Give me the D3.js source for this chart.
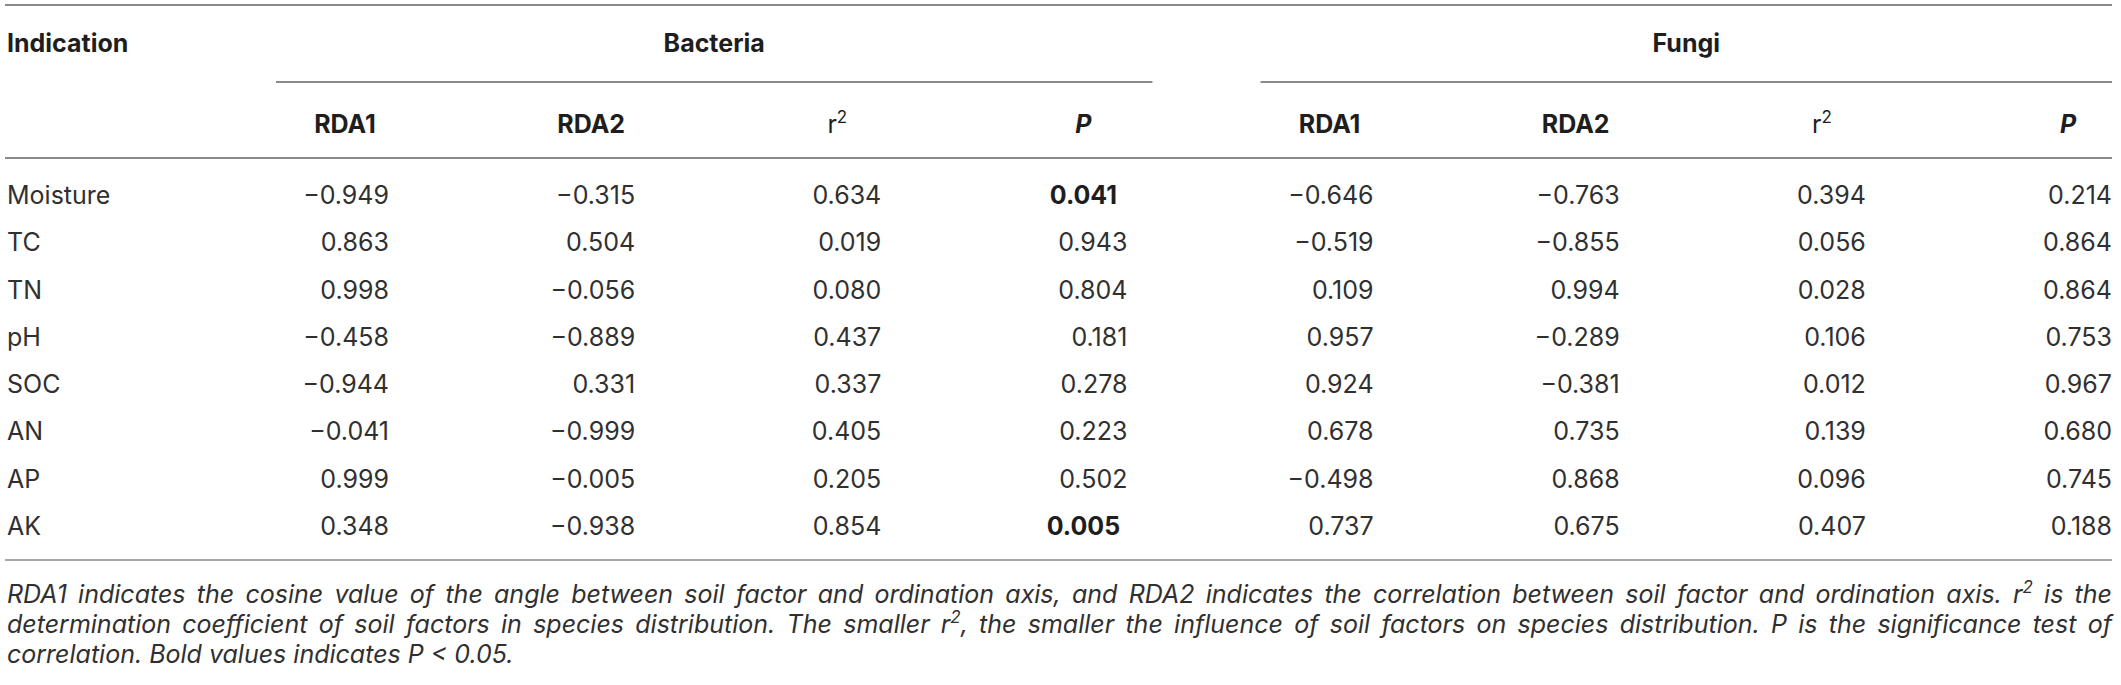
<!DOCTYPE html>
<html><head><meta charset="utf-8">
<script src="https://cdn.jsdelivr.net/npm/d3@7"></script>
<style>
body{margin:0;background:#fff}
svg{display:block}
text{font-family:Inter,"Liberation Sans",Arial,sans-serif}
</style>
</head><body>
<svg id="c" width="2121" height="685"></svg>
<script>
// ---- data ----
const indications = ["Moisture","TC","TN","pH","SOC","AN","AP","AK"];
const groups = ["Bacteria","Fungi"];
const measures = ["RDA1","RDA2","r2","P"];
const bacteriaRDA1 = [-0.949,0.863,0.998,-0.458,-0.944,-0.041,0.999,0.348];
const bacteriaRDA2 = [-0.315,0.504,-0.056,-0.889,0.331,-0.999,-0.005,-0.938];
const bacteriaR2   = [0.634,0.019,0.080,0.437,0.337,0.405,0.205,0.854];
const bacteriaP    = [0.041,0.943,0.804,0.181,0.278,0.223,0.502,0.005];
const fungiRDA1 = [-0.646,-0.519,0.109,0.957,0.924,0.678,-0.498,0.737];
const fungiRDA2 = [-0.763,-0.855,0.994,-0.289,-0.381,0.735,0.868,0.675];
const fungiR2   = [0.394,0.056,0.028,0.106,0.012,0.139,0.096,0.407];
const fungiP    = [0.214,0.864,0.864,0.753,0.967,0.680,0.745,0.188];
const significance = 0.05;
const noteLines = [
  [{t:"RDA1 indicates the cosine value of the angle between soil factor and ordination axis, and RDA2 indicates the correlation between soil factor and ordination axis. r"},{t:"2",sup:true},{t:" is the"}],
  [{t:"determination coefficient of soil factors in species distribution. The smaller r"},{t:"2",sup:true},{t:", the smaller the influence of soil factors on species distribution. P is the significance test of"}],
  [{t:"correlation. Bold values indicates P < 0.05."}]
];

const table = {
  Bacteria:{RDA1:bacteriaRDA1,RDA2:bacteriaRDA2,r2:bacteriaR2,P:bacteriaP},
  Fungi:{RDA1:fungiRDA1,RDA2:fungiRDA2,r2:fungiR2,P:fungiP}
};

// ---- layout ----
const svg = d3.select("#c");
const FS = 25;
const left = 7, right = 2112;
const cols = groups.flatMap(g => measures.map(m => g + "|" + m));
const x = d3.scalePoint().domain(cols).range([389, 2112]);
const y = d3.scalePoint().domain(indications).range([204, 535]);
const fmt = d3.format(".3f");
const ink = "#1e1e1e", inkLight = "#303030", rule = "#8a8a8a";

function hline(x1, x2, yy, color) {
  svg.append("line").attr("x1", x1).attr("x2", x2).attr("y1", yy).attr("y2", yy)
    .attr("stroke", color || rule).attr("stroke-width", 2);
}

// rules
hline(5, right, 5);
hline(5, right, 158);
hline(5, right, 560, "#a8a8a8");

// group header
svg.append("text").attr("x", left).attr("y", 52).attr("font-size", FS)
  .attr("font-weight", 700).attr("fill", ink).text("Indication");

groups.forEach(g => {
  const first = x(g + "|" + measures[0]);
  const last = x(g + "|" + measures[measures.length - 1]);
  const x1 = first - 113, x2 = Math.min(last + 25, right);
  hline(x1, x2, 82);
  svg.append("text").attr("x", (x1 + x2) / 2).attr("y", 52).attr("font-size", FS)
    .attr("font-weight", 700).attr("fill", ink).attr("text-anchor", "middle").text(g);
});

// sub header
cols.forEach(c => {
  const m = c.split("|")[1];
  const t = svg.append("text").attr("x", x(c) - 44).attr("y", 133).attr("font-size", FS)
    .attr("fill", ink).attr("text-anchor", "middle");
  if (m === "r2") {
    t.attr("font-weight", 400);
    t.append("tspan").text("r");
    t.append("tspan").attr("dy", -10).attr("font-size", 17).text("2");
  } else if (m === "P") {
    t.attr("font-weight", 700).attr("font-style", "italic").text("P");
  } else {
    t.attr("font-weight", 700).text(m);
  }
});

// rows
indications.forEach((ind, i) => {
  svg.append("text").attr("x", left).attr("y", y(ind)).attr("font-size", FS)
    .attr("fill", inkLight).text(ind);
  cols.forEach(c => {
    const [g, m] = c.split("|");
    const v = table[g][m][i];
    const bold = m === "P" && v < significance;
    svg.append("text")
      .attr("x", bold ? x(c) - 44 : x(c))
      .attr("y", y(ind)).attr("font-size", FS)
      .attr("text-anchor", bold ? "middle" : "end")
      .attr("font-weight", bold ? 700 : 400)
      .attr("fill", bold ? ink : inkLight)
      .text(fmt(v));
  });
});

// notes (justified)
const noteY = d3.scalePoint().domain(d3.range(noteLines.length)).range([603, 663]);
noteLines.forEach((segs, li) => {
  const t = svg.append("text").attr("x", left).attr("y", noteY(li)).attr("font-size", FS)
    .attr("font-style", "italic").attr("fill", inkLight);
  let shifted = false;
  segs.forEach(s => {
    const ts = t.append("tspan").text(s.t);
    if (s.sup) { ts.attr("dy", -10).attr("font-size", 17); shifted = true; }
    else if (shifted) { ts.attr("dy", 10); shifted = false; }
  });
  if (li < noteLines.length - 1) {
    const w = t.node().getComputedTextLength();
    const n = segs.map(s => s.t).join("").split(" ").length - 1;
    t.style("word-spacing", ((right - left - w) / n) + "px");
  }
});
</script>
</body></html>
